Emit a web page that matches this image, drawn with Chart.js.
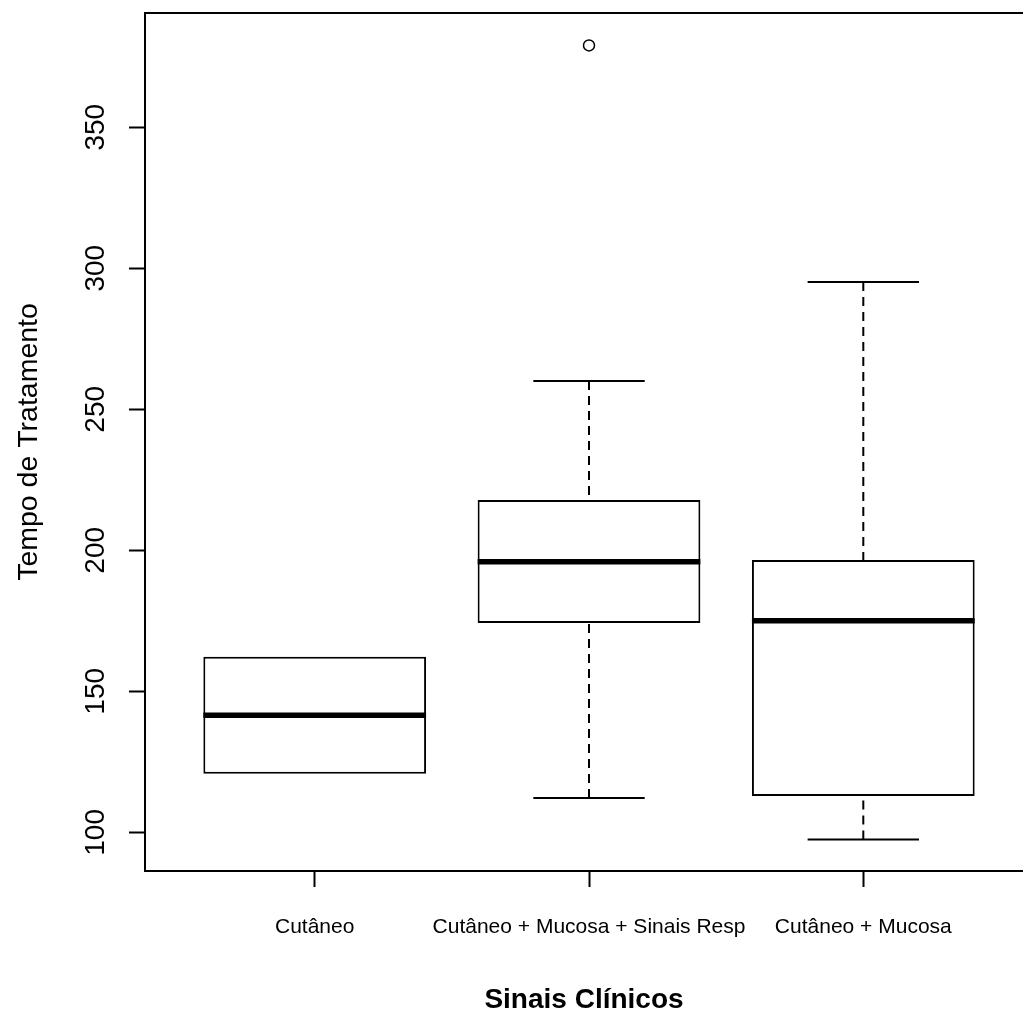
<!DOCTYPE html>
<html>
<head>
<meta charset="utf-8">
<title>Tempo de Tratamento por Sinais Clínicos</title>
<script src="https://cdn.jsdelivr.net/npm/chart.js@4.4.1/dist/chart.umd.min.js"></script>
<style>
    html, body { margin: 0; padding: 0; background: #fff; overflow: hidden; }
    #wrap { width: 1023px; height: 1011px; position: relative; }
    #boxChart { display: block; }
</style>
</head>
<body>
<div id="wrap"><canvas id="boxChart"></canvas></div>
<script>
// values
const categories = ['Cutâneo', 'Cutâneo + Mucosa + Sinais Resp', 'Cutâneo + Mucosa'];
const whiskerLow = [120.8, 112.2, 97.5];
const q1 = [120.8, 174.2, 112.9];
const medians = [141.5, 195.9, 175.0];
const q3 = [162.3, 217.8, 196.6];
const whiskerHigh = [162.3, 260.0, 295.1];
const outliers = [[], [379], []];
const yTicks = [100, 150, 200, 250, 300, 350];

function hasFont(name) {
    const c = document.createElement('canvas').getContext('2d');
    const sample = 'Cutâneo + Mucosa';
    c.font = '40px monospace';
    const base = c.measureText(sample).width;
    c.font = `40px "${name}", monospace`;
    return c.measureText(sample).width !== base;
}

const narrow = hasFont('Liberation Sans Narrow');
const xTickFont = narrow
    ? { family: '"Liberation Sans Narrow"', size: 25.5 }
    : { family: '"Liberation Sans", Arial, sans-serif', size: 21 };

const boxData = categories.map((c, i) => ({ x: i + 1, y: [q1[i], q3[i]] }));
const outlierPoints = [];
outliers.forEach((list, i) => list.forEach(v => outlierPoints.push({ x: i + 1, y: v })));

// medians, whiskers and caps drawn on top of the floating bars
const boxPlotPlugin = {
    id: 'boxWhiskers',
    afterDatasetsDraw(chart) {
        const ctx = chart.ctx;
        const yScale = chart.scales.y;
        const bars = chart.getDatasetMeta(0).data;

        function line(x1, y1, x2, y2) {
            ctx.beginPath();
            ctx.moveTo(x1, y1);
            ctx.lineTo(x2, y2);
            ctx.stroke();
        }

        ctx.save();
        ctx.strokeStyle = '#000';
        ctx.lineCap = 'butt';
        bars.forEach((bar, i) => {
            const { x, width } = bar.getProps(['x', 'width'], true);
            const yLo = yScale.getPixelForValue(whiskerLow[i]);
            const yQ1 = yScale.getPixelForValue(q1[i]);
            const yMed = yScale.getPixelForValue(medians[i]);
            const yQ3 = yScale.getPixelForValue(q3[i]);
            const yHi = yScale.getPixelForValue(whiskerHigh[i]);

            ctx.lineWidth = 2;
            if (whiskerHigh[i] > q3[i]) {
                ctx.setLineDash([9, 6]);
                line(x, yHi, x, yQ3);
                ctx.setLineDash([]);
                line(x - width / 4, yHi, x + width / 4, yHi);
            }
            if (whiskerLow[i] < q1[i]) {
                ctx.setLineDash([9, 6]);
                line(x, yLo, x, yQ1);
                ctx.setLineDash([]);
                line(x - width / 4, yLo, x + width / 4, yLo);
            }

            ctx.lineWidth = 5.5;
            line(x - width / 2, yMed, x + width / 2, yMed);
        });
        ctx.restore();
    }
};

function noEdgePadding(s) {
    s.paddingTop = 0;
    s.paddingBottom = 0;
    s.paddingLeft = 0;
    s.paddingRight = 0;
}

new Chart(document.getElementById('boxChart'), {
    type: 'bar',
    data: {
        datasets: [
            {
                type: 'bar',
                xAxisID: 'x',
                yAxisID: 'y',
                data: boxData,
                backgroundColor: '#fff',
                borderColor: '#000',
                borderWidth: 2,
                borderSkipped: false,
                categoryPercentage: 1,
                barPercentage: 0.812
            },
            {
                type: 'scatter',
                xAxisID: 'x',
                yAxisID: 'y',
                data: outlierPoints,
                pointStyle: 'circle',
                pointRadius: 5.5,
                borderColor: '#000',
                borderWidth: 1.5,
                backgroundColor: 'rgba(0,0,0,0)'
            }
        ]
    },
    options: {
        responsive: true,
        maintainAspectRatio: false,
        animation: false,
        events: [],
        layout: { autoPadding: false, padding: { top: 13, right: 0, bottom: 0, left: 0 } },
        plugins: {
            legend: { display: false },
            tooltip: { enabled: false }
        },
        scales: {
            x: {
                type: 'linear',
                position: 'bottom',
                offset: false,
                min: 0.3813,
                max: 3.5822,
                afterBuildTicks: (s) => { s.ticks = categories.map((c, i) => ({ value: i + 1 })); },
                afterFit: (s) => { s.height = 140; noEdgePadding(s); },
                ticks: {
                    callback: (v, idx) => categories[idx],
                    autoSkip: false,
                    maxRotation: 0,
                    minRotation: 0,
                    padding: 28,
                    color: '#000',
                    font: xTickFont
                },
                grid: { offset: false, drawOnChartArea: false, tickLength: 16, tickWidth: 2, color: '#000' },
                border: { display: true, color: '#000', width: 2 },
                title: {
                    display: true,
                    text: 'Sinais Clínicos',
                    color: '#000',
                    font: { family: '"Liberation Sans", Arial, sans-serif', size: 28, weight: 'bold', lineHeight: 0.8 },
                    padding: 0
                }
            },
            xTop: {
                type: 'linear',
                position: 'top',
                offset: false,
                min: 0.3813,
                max: 3.5822,
                afterBuildTicks: (s) => { s.ticks = []; },
                afterFit: (s) => { s.height = 0; noEdgePadding(s); },
                ticks: { display: false },
                grid: { offset: false, drawOnChartArea: false, drawTicks: false, color: '#000' },
                border: { display: true, color: '#000', width: 2 }
            },
            y: {
                type: 'linear',
                position: 'left',
                min: 86.3,
                max: 390.5,
                afterBuildTicks: (s) => { s.ticks = yTicks.map(v => ({ value: v })); },
                afterFit: (s) => { s.width = 145; noEdgePadding(s); },
                ticks: {
                    minRotation: 90,
                    maxRotation: 90,
                    crossAlign: 'center',
                    padding: 9,
                    color: '#000',
                    font: { family: '"Liberation Sans", Arial, sans-serif', size: 28 }
                },
                grid: { drawOnChartArea: false, tickLength: 16, tickWidth: 2, color: '#000' },
                border: { display: true, color: '#000', width: 2 },
                title: {
                    display: true,
                    text: 'Tempo de Tratamento',
                    color: '#000',
                    font: { family: '"Liberation Sans", Arial, sans-serif', size: 28.5 },
                    padding: { top: 12, bottom: 0 }
                }
            }
        }
    },
    plugins: [boxPlotPlugin]
});
</script>
</body>
</html>
